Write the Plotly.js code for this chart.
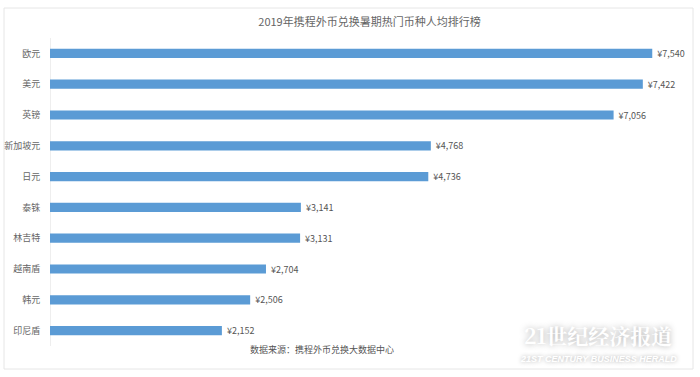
<!DOCTYPE html>
<html><head><meta charset="utf-8">
<script src="https://cdn.plot.ly/plotly-3.0.1.min.js"></script>
<style>html,body{margin:0;padding:0;background:#fff}#c{width:700px;height:377px}</style>
</head><body><div id="c"></div>
<script>
const currencies = ["欧元","美元","英镑","新加坡元","日元","泰铢","林吉特","越南盾","韩元","印尼盾"];
const perCapita = [7540,7422,7056,4768,4736,3141,3131,2704,2506,2152];
const chartTitle = "2019年携程外币兑换暑期热门币种人均排行榜";
const sourceText = "数据来源：携程外币兑换大数据中心";
const FONT = '"Noto Sans CJK SC", "Noto Sans", sans-serif';

const trace = {
  type: 'bar', orientation: 'h',
  x: perCapita, y: currencies,
  marker: {color: '#5b9bd5'},
  width: 0.3,
  text: perCapita.map(v => '\u00a0¥' + v.toLocaleString('en-US')),
  textposition: 'outside', cliponaxis: false, constraintext: 'none',
  textfont: {size: 9, color: '#555', family: FONT},
  hoverinfo: 'none'
};
const layout = {
  width: 700, height: 377,
  margin: {l: 50, r: 11, t: 38, b: 31},
  paper_bgcolor: '#fff', plot_bgcolor: '#fff',
  font: {family: FONT, size: 9, color: '#666'},
  title: {text: chartTitle, font: {size: 11, color: '#666', family: FONT},
          x: 0.5, xref: 'paper', y: 1 - 22/377, yref: 'container', yanchor: 'middle'},
  xaxis: {range: [0, 8000], showgrid: false, showticklabels: false, zeroline: true,
          zerolinecolor: '#eeeeee', zerolinewidth: 1, showline: false, fixedrange: true},
  yaxis: {autorange: 'reversed', showgrid: false, zeroline: false, showline: false,
          ticks: 'outside', ticklen: 7, tickcolor: 'rgba(0,0,0,0)',
          tickfont: {size: 9, color: '#666', family: FONT}},
  showlegend: false,
  shapes: [{type: 'rect', xref: 'paper', yref: 'paper',
            x0: (4-50)/639, x1: (693-50)/639, y0: (346-369)/308, y1: (346-8)/308,
            line: {color: '#e6e6e6', width: 1}, fillcolor: 'rgba(0,0,0,0)', layer: 'below'}],
  annotations: [
    {text: sourceText, xref: 'paper', yref: 'paper', x: (322-50)/639, y: (346-349)/308,
     xanchor: 'center', yanchor: 'middle', showarrow: false, font: {size: 9, color: '#555', family: FONT}},
    {text: '<b>21世纪经济报道</b>', xref: 'paper', yref: 'paper', x: (598-50)/639, y: (346-335)/308,
     xanchor: 'center', yanchor: 'middle', showarrow: false,
     font: {size: 21, color: '#ffffff', family: '"Noto Serif CJK SC", "Noto Sans CJK SC", serif', shadow: '0 0 6px rgba(0,0,0,0.35)'}},
    {text: '<b><i>21ST CENTURY BUSINESS HERALD</i></b>', xref: 'paper', yref: 'paper', x: (598-50)/639, y: (346-359)/308,
     xanchor: 'center', yanchor: 'middle', showarrow: false,
     font: {size: 9, color: '#ffffff', family: '"Liberation Sans", sans-serif', shadow: '0 0 4px rgba(0,0,0,0.35)'}}
  ]
};
Plotly.newPlot('c', [trace], layout, {displayModeBar: false, staticPlot: true});
</script></body></html>
